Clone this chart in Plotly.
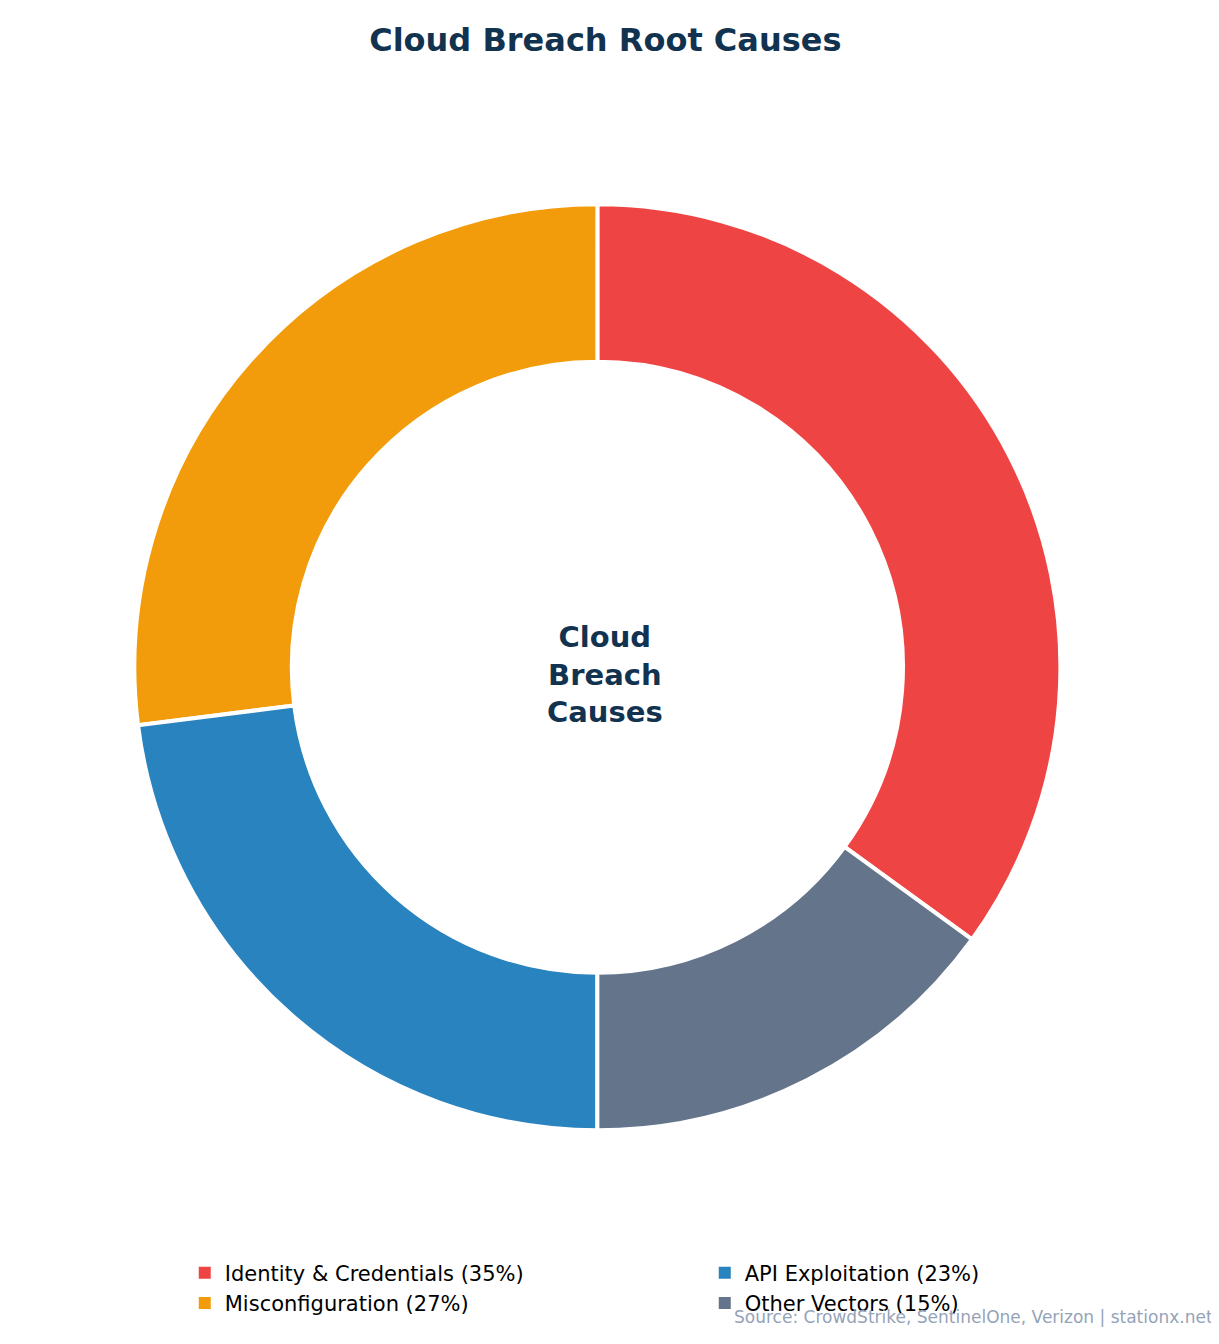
import plotly.graph_objects as go

labels = ["Identity & Credentials (35%)", "Misconfiguration (27%)", "API Exploitation (23%)", "Other Vectors (15%)"]
values = [35, 27, 23, 15]
colors = ["#ef4444", "#f39c0b", "#2983bf", "#64748b"]
legend_order = [0, 2, 1, 3]

fig = go.Figure()
fig.add_trace(go.Pie(
    labels=labels, values=values, hole=0.66, sort=False,
    direction="counterclockwise", rotation=0,
    marker=dict(colors=colors, line=dict(color="white", width=4)),
    textinfo="none", hoverinfo="label+value", showlegend=False,
    domain=dict(x=[0.0, 0.967], y=[0.165, 0.854]),
))
for i in legend_order:
    fig.add_trace(go.Scatter(x=[None], y=[None], mode="markers", name=labels[i],
                             marker=dict(symbol="square", size=16, color=colors[i])))
fig.update_xaxes(visible=False)
fig.update_yaxes(visible=False)
fig.update_layout(
    width=1219, height=1344, margin=dict(l=0, r=0, t=0, b=0),
    paper_bgcolor="white", plot_bgcolor="white",
    font=dict(family="DejaVu Sans", color="#000000"),
    title=dict(text="<b>Cloud Breach Root Causes</b>", x=0.49, xanchor="center", y=0.976, yanchor="middle",
               font=dict(size=32, color="#12334f")),
    legend=dict(orientation="h", x=0.145, xanchor="left", y=0.074, yanchor="top",
                entrywidth=475, entrywidthmode="pixels", font=dict(size=21), traceorder="normal",
                itemsizing="constant"),
    annotations=[
        dict(text="<b>Cloud<br>Breach<br>Causes</b>", x=0.49, y=1-666/1344, xref="paper", yref="paper",
             showarrow=False, font=dict(size=29, color="#12334f")),
        dict(text="Source: CrowdStrike, SentinelOne, Verizon | stationx.net", x=0.99, y=1-1309/1344,
             xref="paper", yref="paper", xanchor="right", yanchor="middle", showarrow=False,
             font=dict(size=17, color="#94a3b8")),
    ],
)
fig.write_html("out.html")
